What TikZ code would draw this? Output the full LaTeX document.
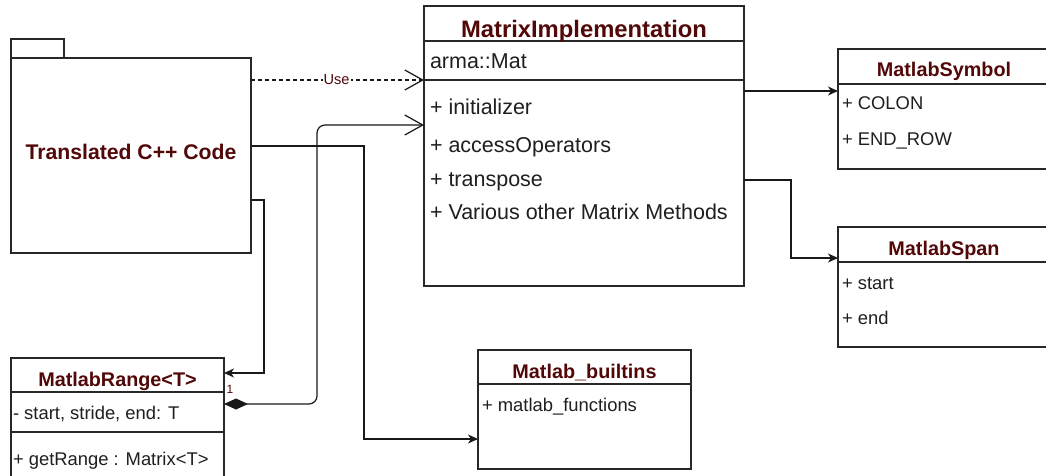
\documentclass[tikz,border=0pt]{standalone}
\usepackage{fontspec}
\setmainfont{Liberation Sans}
\usetikzlibrary{arrows.meta}
\definecolor{titlered}{RGB}{82,8,8}
\definecolor{frame}{RGB}{40,40,40}

\begin{document}
\begin{tikzpicture}[x=1pt,y=-1pt,
  every node/.style={inner sep=0pt, outer sep=0pt},
  umlbox/.style={rectangle, draw=frame, line width=1.3pt, fill=white, anchor=north west},
  divider/.style={draw=frame, line width=1.3pt},
  bigtitle/.style={font=\bfseries\fontsize{23.8pt}{28pt}\selectfont, text=titlered, anchor=base},
  pkgtitle/.style={font=\bfseries\fontsize{21.2pt}{26pt}\selectfont, text=titlered, anchor=base},
  boxtitle/.style={font=\bfseries\fontsize{19.8pt}{24pt}\selectfont, text=titlered, anchor=base},
  bigitem/.style={font=\fontsize{21.5pt}{26pt}\selectfont, text=black!88, anchor=base west},
  boxitem/.style={font=\fontsize{18.4pt}{22pt}\selectfont, text=black!88, anchor=base west},
  conn/.style={draw=black!90, line width=1.2pt},
  openhead/.style={-{Straight Barb[length=18pt,width=20pt]}},
  solidhead/.style={-{Stealth[length=10pt,width=9pt,inset=3pt]}},
  edgelabel/.style={font=\fontsize{14.6pt}{17pt}\selectfont, text=titlered, fill=white, inner sep=1pt}
]
\useasboundingbox (0,0) rectangle (1046,476);
\fill[white] (0,0) rectangle (1046,476);
\clip (0,0) rectangle (1046,476);

% package: Translated C++ Code
\node[umlbox, minimum width=53pt, minimum height=19pt] (pkgtab) at (11,39) {};
\node[umlbox, minimum width=240pt, minimum height=195pt] (pkg) at (11,58) {};
\node[pkgtitle] (pkgname) at (131,159) {Translated C++ Code};

% class MatrixImplementation
\node[umlbox, minimum width=320pt, minimum height=280pt] (impl) at (424,6) {};
\draw[divider] (impl.west |- 0,41) -- (impl.east |- 0,41);
\draw[divider] (impl.west |- 0,80) -- (impl.east |- 0,80);
\node[bigtitle] (implT) at (584,38) {MatrixImplementation};
\node[bigitem] (implA) at (430,69) {arma::Mat};
\node[bigitem] (implM1) at (430,114) {+ initializer};
\node[bigitem] (implM2) at (430,152) {+ accessOperators};
\node[bigitem] (implM3) at (430,186) {+ transpose};
\node[bigitem] (implM4) at (430,219) {+ Various other Matrix Methods};

% class MatlabSymbol
\node[umlbox, minimum width=214pt, minimum height=120pt] (sym) at (838,49) {};
\draw[divider] (sym.west |- 0,84) -- (sym.east |- 0,84);
\node[boxtitle] (symT) at (944,77) {MatlabSymbol};
\node[boxitem] (symA) at (842,110) {+ COLON};
\node[boxitem] (symB) at (842,146) {+ END\_ROW};

% class MatlabSpan
\node[umlbox, minimum width=214pt, minimum height=120pt] (span) at (838,227) {};
\draw[divider] (span.west |- 0,262) -- (span.east |- 0,262);
\node[boxtitle] (spanT) at (944,255) {MatlabSpan};
\node[boxitem] (spanA) at (842,289) {+ start};
\node[boxitem] (spanB) at (842,324) {+ end};

% class Matlab_builtins
\node[umlbox, minimum width=213pt, minimum height=119pt] (blt) at (478,350) {};
\draw[divider] (blt.west |- 0,384) -- (blt.east |- 0,384);
\node[boxtitle] (bltT) at (584.5,378) {Matlab\_builtins};
\node[boxitem] (bltA) at (482,411) {+ matlab\_functions};

% class MatlabRange<T>
\node[umlbox, minimum width=213pt, minimum height=126pt] (rng) at (11,358) {};
\draw[divider] (rng.west |- 0,392) -- (rng.east |- 0,392);
\draw[divider] (rng.west |- 0,432) -- (rng.east |- 0,432);
\node[boxtitle] (rngT) at (117.5,386) {MatlabRange<T>};
\node[boxitem] (rngA) at (13,419) {- start, stride, end: T};
\node[boxitem] (rngB) at (13,465) {+ getRange : Matrix<T>};

% dependency: Use
\draw[conn, openhead, dash pattern=on 4pt off 3pt] (pkg.east |- 0,80) -- (impl.west |- 0,80)
  node[edgelabel, pos=0.495] (uselbl) {Use};

% composition MatlabRange -> MatrixImplementation
\draw[conn, rounded corners=8pt,
      {Diamond[length=24pt,width=11pt]}-{Straight Barb[length=18pt,width=20pt]}]
  (rng.east |- 0,404) -- (317,404) -- (317,125) -- (impl.west |- 0,125);
\node[font=\fontsize{12pt}{14pt}\selectfont, text=titlered] (mult) at (230,389) {1};

% Translated code -> Matlab_builtins
\draw[conn, solidhead] (pkg.east |- 0,146) -- (364,146) -- (364,439) -- (blt.west |- 0,439);

% Translated code -> MatlabRange
\draw[conn, solidhead] (pkg.east |- 0,200) -- (264,200) -- (264,373) -- (rng.east |- 0,373);

% MatrixImplementation -> MatlabSymbol
\draw[conn, solidhead] (impl.east |- 0,91) -- (sym.west |- 0,91);

% MatrixImplementation -> MatlabSpan
\draw[conn, solidhead] (impl.east |- 0,180) -- (791,180) -- (791,258) -- (span.west |- 0,258);
\end{tikzpicture}
\end{document}
